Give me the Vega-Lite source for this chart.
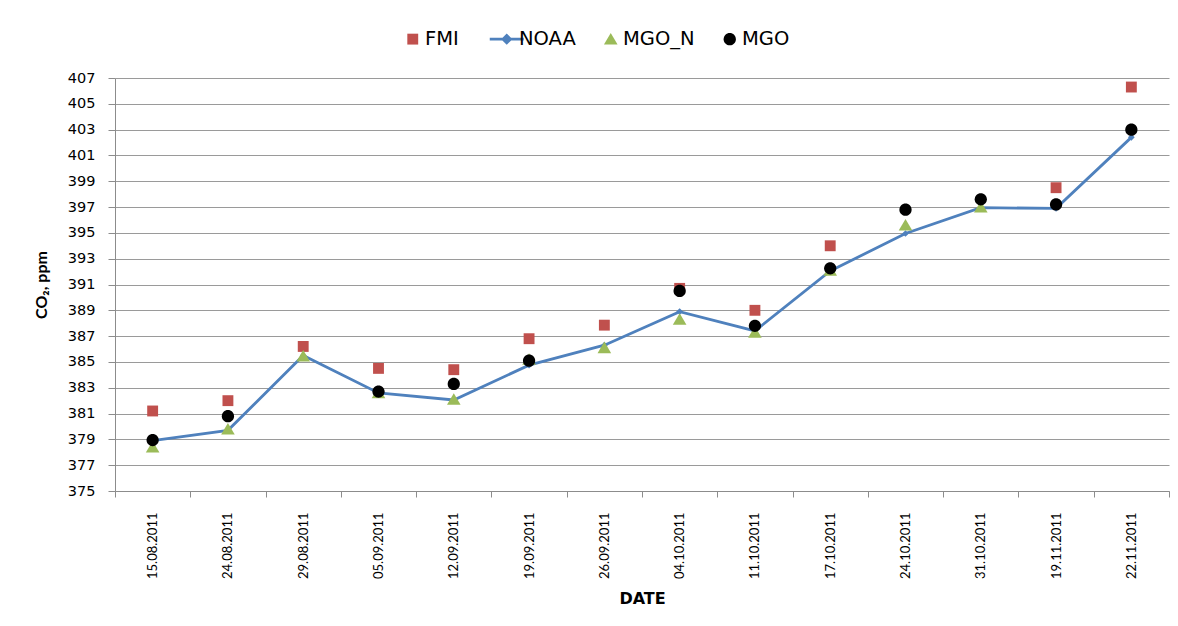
{
  "$schema": "https://vega.github.io/schema/vega-lite/v6.json",
  "width": 1054,
  "height": 413,
  "autosize": {"type": "none"},
  "padding": {"left": 115, "top": 78, "right": 9, "bottom": 135},
  "background": "white",
  "config": {
    "font": "Lato",
    "view": {"stroke": null},
    "axis": {"labelColor": "#000", "titleColor": "#000", "domainColor": "#8c8c8c", "tickColor": "#8c8c8c", "gridColor": "#9a9a9a"}
  },
  "data": {
    "values": [
      {"date": "15.08.2011", "series": "FMI", "value": 381.2},
      {"date": "24.08.2011", "series": "FMI", "value": 382.0},
      {"date": "29.08.2011", "series": "FMI", "value": 386.2},
      {"date": "05.09.2011", "series": "FMI", "value": 384.5},
      {"date": "12.09.2011", "series": "FMI", "value": 384.4},
      {"date": "19.09.2011", "series": "FMI", "value": 386.8},
      {"date": "26.09.2011", "series": "FMI", "value": 387.85},
      {"date": "04.10.2011", "series": "FMI", "value": 390.7},
      {"date": "11.10.2011", "series": "FMI", "value": 389.0},
      {"date": "17.10.2011", "series": "FMI", "value": 394.0},
      {"date": "19.11.2011", "series": "FMI", "value": 398.5},
      {"date": "22.11.2011", "series": "FMI", "value": 406.3},
      {"date": "15.08.2011", "series": "NOAA", "value": 378.9},
      {"date": "24.08.2011", "series": "NOAA", "value": 379.7},
      {"date": "29.08.2011", "series": "NOAA", "value": 385.5},
      {"date": "05.09.2011", "series": "NOAA", "value": 382.6},
      {"date": "12.09.2011", "series": "NOAA", "value": 382.05},
      {"date": "19.09.2011", "series": "NOAA", "value": 384.75},
      {"date": "26.09.2011", "series": "NOAA", "value": 386.3},
      {"date": "04.10.2011", "series": "NOAA", "value": 388.9},
      {"date": "11.10.2011", "series": "NOAA", "value": 387.4},
      {"date": "17.10.2011", "series": "NOAA", "value": 392.05},
      {"date": "24.10.2011", "series": "NOAA", "value": 394.95},
      {"date": "31.10.2011", "series": "NOAA", "value": 396.95},
      {"date": "19.11.2011", "series": "NOAA", "value": 396.9},
      {"date": "22.11.2011", "series": "NOAA", "value": 402.4},
      {"date": "15.08.2011", "series": "MGO_N", "value": 378.4},
      {"date": "24.08.2011", "series": "MGO_N", "value": 379.8},
      {"date": "29.08.2011", "series": "MGO_N", "value": 385.45},
      {"date": "05.09.2011", "series": "MGO_N", "value": 382.6},
      {"date": "12.09.2011", "series": "MGO_N", "value": 382.1},
      {"date": "19.09.2011", "series": "MGO_N", "value": 385.2},
      {"date": "26.09.2011", "series": "MGO_N", "value": 386.1},
      {"date": "04.10.2011", "series": "MGO_N", "value": 388.3},
      {"date": "11.10.2011", "series": "MGO_N", "value": 387.3},
      {"date": "17.10.2011", "series": "MGO_N", "value": 392.1},
      {"date": "24.10.2011", "series": "MGO_N", "value": 395.6},
      {"date": "31.10.2011", "series": "MGO_N", "value": 397.0},
      {"date": "15.08.2011", "series": "MGO", "value": 378.95},
      {"date": "24.08.2011", "series": "MGO", "value": 380.8},
      {"date": "05.09.2011", "series": "MGO", "value": 382.7},
      {"date": "12.09.2011", "series": "MGO", "value": 383.3},
      {"date": "19.09.2011", "series": "MGO", "value": 385.1},
      {"date": "04.10.2011", "series": "MGO", "value": 390.5},
      {"date": "11.10.2011", "series": "MGO", "value": 387.8},
      {"date": "17.10.2011", "series": "MGO", "value": 392.25},
      {"date": "24.10.2011", "series": "MGO", "value": 396.8},
      {"date": "31.10.2011", "series": "MGO", "value": 397.6},
      {"date": "19.11.2011", "series": "MGO", "value": 397.2},
      {"date": "22.11.2011", "series": "MGO", "value": 403.0}
    ]
  },
  "encoding": {
    "x": {
      "field": "date",
      "type": "nominal",
      "sort": null,
      "scale": {"type": "band", "paddingInner": 0, "paddingOuter": 0},
      "axis": {
        "title": "DATE",
        "titleFont": "DejaVu Sans",
        "titleFontSize": 16,
        "titleFontWeight": "bold",
        "titleY": 107,
        "titleBaseline": "middle",
        "labelFont": "Lato",
        "labelAngle": -90,
        "labelFontSize": 13,
        "labelPadding": 15,
        "tickSize": 6,
        "tickBand": "extent",
        "grid": false
      }
    },
    "y": {
      "field": "value",
      "type": "quantitative",
      "scale": {"domain": [375, 407], "nice": false, "zero": false},
      "axis": {
        "title": "CO₂, ppm",
        "titleFont": "Lato",
        "titleFontSize": 16,
        "titleFontWeight": "bold",
        "titleX": -66,
        "values": [375, 377, 379, 381, 383, 385, 387, 389, 391, 393, 395, 397, 399, 401, 403, 405, 407],
        "labelFont": "DejaVu Sans",
        "labelFontSize": 14.5,
        "labelPadding": 13,
        "tickSize": 7,
        "grid": true
      }
    }
  },
  "layer": [
    {
      "transform": [{"filter": "datum.series === 'NOAA'"}],
      "mark": {"type": "line", "color": "#4F81BD", "strokeWidth": 2.8, "point": {"shape": "diamond", "filled": true, "size": 45, "color": "#4F81BD", "opacity": 1}}
    },
    {
      "transform": [{"filter": "datum.series !== 'NOAA'"}],
      "mark": {"type": "point", "filled": true, "opacity": 1, "size": 1156, "strokeWidth": 0},
      "encoding": {
        "color": {
          "field": "series",
          "type": "nominal",
          "scale": {"domain": ["FMI", "NOAA", "MGO_N", "MGO"], "range": ["#C0504D", "#4F81BD", "#9BBB59", "#000000"]},
          "legend": {
            "orient": "none",
            "direction": "horizontal",
            "legendX": 288,
            "legendY": -49,
            "title": null,
            "symbolSize": 1156,
            "symbolOpacity": 1,
            "labelFont": "DejaVu Sans",
            "labelFontSize": 19.5,
            "labelColor": "#000",
            "labelOffset": 2.5,
            "columnPadding": 25,
            "labelLimit": 300,
            "encode": {
              "symbols": {
                "update": {
                  "stroke": {"signal": "datum.value === 'NOAA' ? '#4F81BD' : 'transparent'"},
                  "strokeWidth": {"signal": "datum.value === 'NOAA' ? 2.8 : 0"}
                }
              }
            }
          }
        },
        "shape": {
          "field": "series",
          "type": "nominal",
          "scale": {
            "domain": ["FMI", "NOAA", "MGO_N", "MGO"],
            "range": [
              "M-0.32,-0.32H0.32V0.32H-0.32Z",
              "M-1,0H1M0,-0.22L0.22,0L0,0.22L-0.22,0Z",
              "M0,-0.36L0.4,0.32L-0.4,0.32Z",
              "M0.36,0A0.36,0.36,0,1,1,-0.36,0A0.36,0.36,0,1,1,0.36,0Z"
            ]
          }
        }
      }
    }
  ]
}
